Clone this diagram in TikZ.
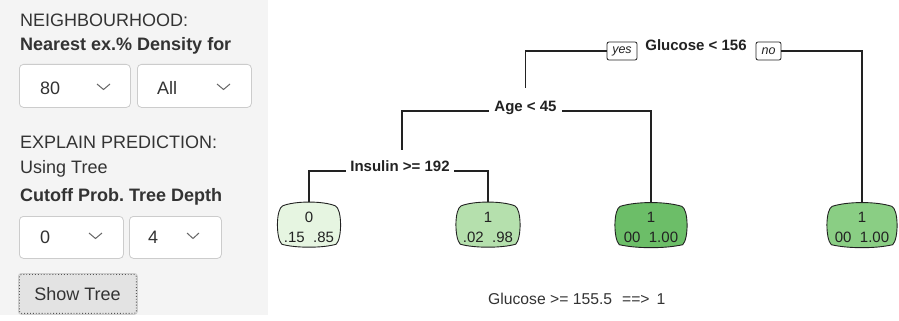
\documentclass[tikz,border=0pt]{standalone}
\usepackage{fontspec}
\setmainfont{Liberation Sans}
\usetikzlibrary{calc}
\frenchspacing
\definecolor{txt}{HTML}{333333}
\definecolor{ink}{HTML}{222222}
\definecolor{panelbg}{HTML}{F4F4F4}
\definecolor{boxline}{HTML}{CCCCCC}
\definecolor{chevc}{HTML}{666666}
\definecolor{btnfill}{HTML}{E3E3E3}
\definecolor{btnline}{HTML}{555555}
\definecolor{leafA}{HTML}{E6F5E1}
\definecolor{leafB}{HTML}{B5E0AD}
\definecolor{leafC}{HTML}{6CBE68}
\definecolor{leafD}{HTML}{8ACE84}
% barrel-shaped outline drawn around a leaf node: #1 node name, #2 fill colour
\newcommand\barrelleaf[2]{%
  \filldraw[fill=#2, draw=ink, line width=0.9pt]
    ($(#1.north west)+(6,4)$)
      .. controls ($(#1.north)+(-14,-1)$) and ($(#1.north)+(14,-1)$) .. ($(#1.north east)+(-6,4)$)
      .. controls ($(#1.east)+(1,-16)$) and ($(#1.east)+(1,14)$) .. ($(#1.south east)+(-5,-3)$)
      .. controls ($(#1.south)+(14,1)$) and ($(#1.south)+(-14,1)$) .. ($(#1.south west)+(5,-3)$)
      .. controls ($(#1.west)+(-1,14)$) and ($(#1.west)+(-1,-16)$) .. cycle;}
\begin{document}
\begin{tikzpicture}[x=1pt,y=-1pt,
  ptext/.style={font=\fontsize{18}{21}\selectfont, text=txt, anchor=base west, inner sep=0pt},
  pbold/.style={ptext, font=\fontsize{18}{21}\selectfont\bfseries},
  dropbox/.style={draw=boxline, fill=white, rounded corners=4pt, line width=0.8pt, inner sep=0pt, anchor=north west},
  chev/.style={draw=chevc, line width=1pt},
  split/.style={font=\fontsize{15}{18}\selectfont\bfseries, text=ink, inner xsep=4.5pt, inner ysep=0pt, anchor=base},
  tag/.style={draw=ink, fill=white, rounded corners=2pt, line width=0.8pt, font=\fontsize{12.5}{14}\selectfont\itshape, text=ink, inner sep=0pt, minimum height=18pt},
  leaf/.style={inner sep=0pt, minimum height=45pt},
  leaftxt/.style={font=\fontsize{15}{18}\selectfont, text=ink, inner sep=0pt, anchor=base},
  branch/.style={draw=ink, line width=1.2pt},
]
% canvas
\useasboundingbox[fill=white] (0,0) rectangle (899,321);

% ---------- control panel ----------
\fill[panelbg] (0,0) rectangle (268,315);
\node[ptext] (hNb) at (20,27) {NEIGHBOURHOOD:};
\node[pbold] (hNear) at (20,51) {Nearest ex.\% Density for};

\node[dropbox, minimum width=111pt, minimum height=43pt] (selNear) at (19,64) {};
\node[ptext] (valNear) at (40,94) {80};
\draw[chev] (97,84) -- (103.5,89.5) -- (110,84);
\node[dropbox, minimum width=114pt, minimum height=43pt] (selDens) at (137,64) {};
\node[ptext] (valDens) at (157,94) {All};
\draw[chev] (217,84) -- (223.5,89.5) -- (230,84);

\node[ptext] (hExp) at (20,148) {EXPLAIN PREDICTION:};
\node[ptext] (hUse) at (20,173) {Using Tree};
\node[pbold] (hCut) at (20,201) {Cutoff Prob. Tree Depth};

\node[dropbox, minimum width=104pt, minimum height=42pt] (selCut) at (19,216) {};
\node[ptext] (valCut) at (40,243) {0};
\draw[chev] (89,233) -- (95.5,238.5) -- (102,233);
\node[dropbox, minimum width=92pt, minimum height=42pt] (selDep) at (129,216) {};
\node[ptext] (valDep) at (148,243) {4};
\draw[chev] (187,233) -- (193,238.5) -- (199,233);

\node[draw=boxline, fill=btnfill, rounded corners=3pt, line width=0.8pt,
      minimum width=119pt, minimum height=41pt, inner sep=0pt, anchor=north west] (btn) at (18,273) {};
\draw[btnline, dotted, line width=0.9pt, rounded corners=2pt]
  ($(btn.north west)+(1.5,1.5)$) rectangle ($(btn.south east)+(-1.5,-1.5)$);
\node[font=\fontsize{18}{21}\selectfont, text=txt, inner sep=0pt, anchor=base] (btnTxt) at (77.5,300) {Show Tree};

% ---------- decision tree ----------
\node[split] (root) at (696,51) {Glucose < 156};
\node[tag, minimum width=30pt] (yes) at (622,51) {yes};
\node[tag, minimum width=25pt] (no) at (768.5,51) {no};
\node[split, inner xsep=5.5pt] (age) at (525.5,111) {Age < 45};
\node[split] (ins) at (400,171) {Insulin >= 192};

\node[leaf, minimum width=64pt] (l1) at (309,224.5) {};
\node[leaf, minimum width=65pt] (l2) at (488,224.5) {};
\node[leaf, minimum width=73pt] (l3) at (651,225) {};
\node[leaf, minimum width=71pt] (l4) at (862,225) {};
\barrelleaf{l1}{leafA}
\barrelleaf{l2}{leafB}
\barrelleaf{l3}{leafC}
\barrelleaf{l4}{leafD}

\node[leaftxt] (l1c) at (309,222) {0};
\node[leaftxt] (l1p) at (309,242) {.15\ \ .85};
\node[leaftxt] (l2c) at (488,222) {1};
\node[leaftxt] (l2p) at (488,242) {.02\ \ .98};
\node[leaftxt] (l3c) at (651,222) {1};
\node[leaftxt] (l3p) at (651,242) {00\ \ 1.00};
\node[leaftxt] (l4c) at (862,222) {1};
\node[leaftxt] (l4p) at (862,242) {00\ \ 1.00};

\draw[branch] (yes.west) -| ($(age.north)+(0,-12)$);
\draw[branch] (no.east) -| (l4.north);
\draw[branch] (age.base west) -| ($(ins.north)+(2,-10)$);
\draw[branch] (age.base east) -| (l3.north);
\draw[branch] (ins.base west) -| (l1.north);
\draw[branch] (ins.base east) -| (l2.north);

\node[font=\fontsize{15.7}{18}\selectfont, text=txt, inner sep=0pt, anchor=base west] (rule) at (488,304)
  {Glucose >= 155.5\hspace{10pt}==>\hspace{7pt}1};
\end{tikzpicture}
\end{document}
